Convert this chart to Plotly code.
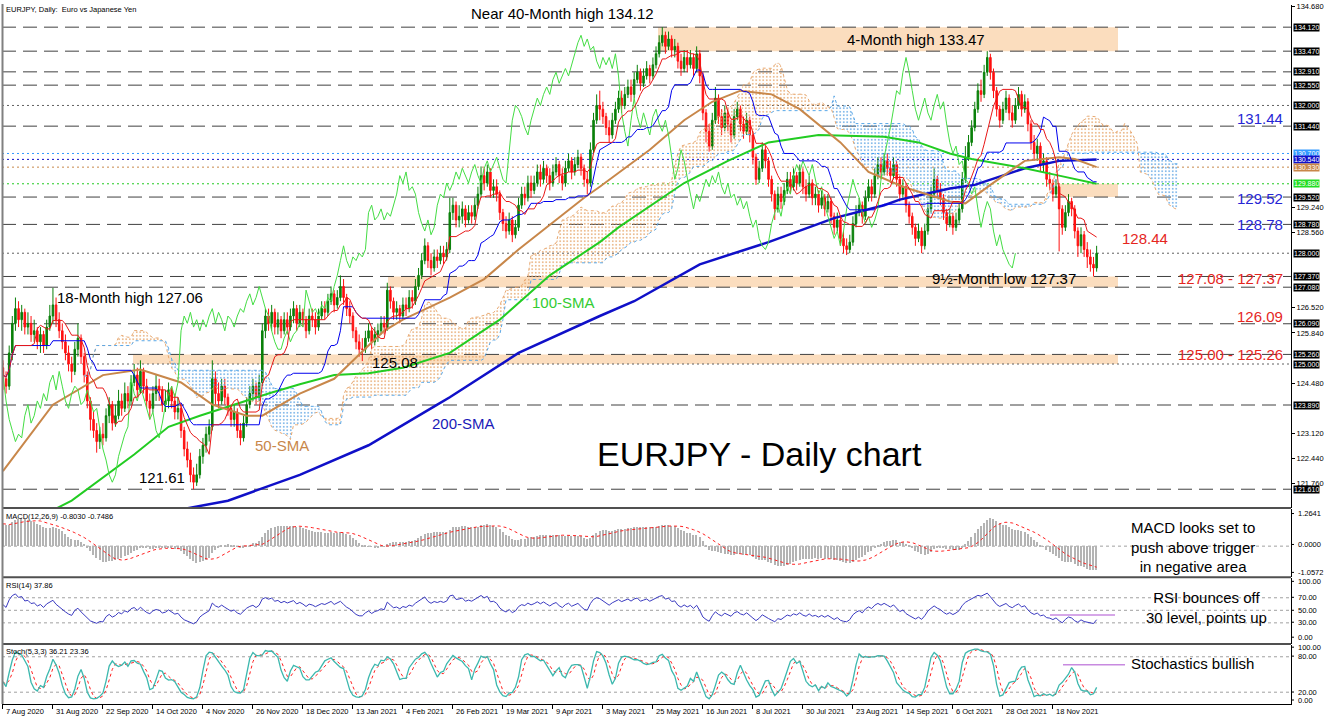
import pandas as pd
import plotly.graph_objects as go
from plotly.subplots import make_subplots

# ---------------- data ----------------
open_first = 124.9
close = [
124.6,124.4,125.3,126.1,126.5,126.2,126.4,126.0,126.1,125.8,
125.9,125.6,125.8,125.5,126.0,126.3,126.6,126.2,125.9,125.6,
125.3,125.0,124.8,125.4,125.7,125.2,124.7,124.0,123.5,123.2,
122.9,123.1,123.0,123.6,123.9,123.4,123.6,124.0,123.8,124.2,
124.0,124.5,124.7,124.3,124.8,124.4,124.0,123.8,124.2,124.4,
124.3,123.9,124.0,124.3,124.0,123.7,123.8,123.2,122.7,122.4,
122.0,121.8,122.0,122.5,122.8,123.1,123.3,124.6,124.2,124.0,
124.4,124.1,123.8,123.5,123.7,123.2,123.0,123.4,123.9,124.2,
124.4,124.1,124.5,125.9,126.3,126.1,126.4,126.0,126.2,125.9,
126.2,126.0,126.3,126.5,126.1,126.4,126.2,125.9,126.3,126.2,
126.0,126.3,126.5,126.4,126.7,126.9,126.6,126.8,127.1,126.8,
126.5,126.3,125.9,125.6,125.4,125.4,125.7,125.9,125.6,125.8,
125.9,126.1,126.0,127.0,126.7,126.4,126.5,126.3,126.6,126.5,
126.8,126.7,127.1,127.4,127.8,128.2,127.8,127.6,127.9,127.8,
128.0,127.9,128.1,129.1,129.3,128.9,129.0,129.2,128.9,129.1,
129.0,129.3,129.6,130.1,129.9,130.2,129.7,129.8,129.6,129.1,
128.8,128.6,128.9,128.5,128.7,129.3,129.6,129.5,129.9,129.7,
129.9,130.2,130.0,130.3,130.1,129.9,130.2,130.4,130.1,129.9,
130.3,130.5,130.2,130.4,130.6,130.3,130.0,129.9,130.8,131.6,
132.0,131.9,131.7,131.4,131.2,131.6,131.9,132.2,132.0,132.3,
132.5,132.3,132.7,132.9,132.6,132.8,133.0,132.8,133.1,133.4,
133.7,133.9,133.6,133.8,133.5,133.6,133.2,133.0,133.3,133.1,
133.3,133.0,133.4,132.8,131.8,131.3,130.9,131.6,132.2,131.7,
131.4,131.8,131.5,131.2,131.7,131.9,131.5,131.3,131.6,131.2,
130.6,130.0,130.3,130.8,130.5,130.0,129.6,129.2,129.6,129.4,
129.7,130.0,129.8,130.1,129.9,130.2,129.8,129.6,129.9,129.5,
129.6,129.3,129.5,129.2,129.4,129.0,128.7,128.9,128.4,128.2,
128.1,128.3,128.8,129.1,129.3,129.0,129.5,129.8,129.6,130.1,
130.4,130.2,130.5,130.3,130.1,130.4,130.0,129.6,129.8,129.3,
129.0,128.7,128.4,128.6,128.2,128.6,129.2,129.6,130.0,129.7,
129.5,129.1,128.8,129.0,128.7,128.9,129.2,130.0,130.6,131.0,
131.4,131.9,132.4,132.3,132.9,133.3,132.9,132.4,131.9,131.6,
131.9,132.2,131.8,131.6,132.0,132.3,131.9,132.1,131.5,131.0,
130.7,130.9,130.4,130.5,130.0,129.9,129.6,129.8,129.2,128.7,
129.1,129.4,129.2,128.6,128.2,128.5,128.1,127.9,127.7,127.6,128.0]
high = [
125.1,124.8,125.5,126.3,126.8,126.7,126.6,126.5,126.4,126.3,
126.2,126.0,126.0,125.9,126.2,126.6,127.06,126.8,126.4,126.1,
125.8,125.5,125.2,125.6,126.1,125.8,125.3,124.8,124.1,123.7,
123.4,123.3,123.4,123.8,124.1,124.0,123.9,124.3,124.2,124.5,
124.4,124.7,125.0,124.9,125.1,124.9,124.6,124.2,124.4,124.7,
124.6,124.4,124.3,124.5,124.4,124.2,124.1,123.9,123.3,122.9,
122.6,122.2,122.3,122.7,123.0,123.3,123.5,125.1,124.8,124.5,
124.6,124.6,124.2,123.9,123.9,123.8,123.4,123.6,124.1,124.4,
124.6,124.5,124.7,126.1,126.5,126.5,126.6,126.5,126.4,126.3,
126.4,126.4,126.5,126.7,126.6,126.6,126.5,126.3,126.5,126.5,
126.4,126.5,126.7,126.7,126.9,127.1,127.0,127.0,127.4,127.3,
126.9,126.7,126.4,126.0,125.8,125.7,125.9,126.1,126.0,126.0,
126.1,126.3,126.3,127.2,127.1,126.8,126.7,126.6,126.8,126.8,
127.0,127.0,127.3,127.6,128.0,128.4,128.3,128.0,128.1,128.1,
128.2,128.2,128.3,129.5,129.5,129.4,129.3,129.4,129.3,129.3,
129.3,129.5,129.8,130.35,130.3,130.4,130.3,130.0,130.0,129.7,
129.2,129.0,129.1,129.0,128.9,129.5,129.8,129.8,130.1,130.1,
130.1,130.4,130.4,130.5,130.4,130.3,130.4,130.6,130.5,130.3,
130.5,130.7,130.6,130.6,130.8,130.7,130.4,130.2,131.0,131.8,
132.3,132.4,132.1,131.8,131.6,131.8,132.1,132.4,132.4,132.5,
132.7,132.7,132.9,133.1,133.0,133.0,133.2,133.1,133.3,133.6,
133.9,134.12,134.0,134.0,133.9,133.8,133.7,133.4,133.5,133.5,
133.5,133.4,133.6,133.5,132.9,131.9,131.5,131.8,132.5,132.3,
131.9,132.0,131.9,131.6,131.9,132.1,132.0,131.7,131.8,131.7,
131.3,130.7,130.5,131.0,130.9,130.6,130.1,129.7,129.8,129.8,
129.9,130.2,130.2,130.3,130.2,130.4,130.3,130.0,130.1,130.0,
129.8,129.7,129.7,129.6,129.6,129.5,129.1,129.1,129.0,128.6,
128.4,128.5,129.0,129.3,129.5,129.4,129.7,130.0,130.0,130.3,
130.6,130.6,130.7,130.7,130.5,130.6,130.5,130.1,130.0,129.9,
129.4,129.1,128.8,128.8,128.7,128.8,129.4,129.8,130.3,130.1,
129.9,129.6,129.2,129.2,129.1,129.1,129.4,130.2,130.9,131.2,
131.6,132.1,132.6,132.7,133.1,133.47,133.4,133.0,132.5,132.0,
132.1,132.4,132.3,132.0,132.2,132.5,132.4,132.3,132.2,131.6,
131.2,131.1,131.0,130.7,130.6,130.2,130.0,130.0,129.9,129.3,
129.3,129.6,129.5,129.3,128.7,128.7,128.6,128.3,128.1,127.9,128.2]
low = [
124.3,124.2,124.3,125.1,125.9,126.0,125.9,125.8,125.8,125.6,
125.6,125.4,125.3,125.3,125.4,125.9,126.1,126.0,125.7,125.4,
125.1,124.8,124.5,124.7,125.2,125.0,124.5,123.8,123.2,123.0,
122.6,122.7,122.8,122.9,123.4,123.2,123.3,123.5,123.6,123.7,
123.8,123.9,124.4,124.1,124.2,124.2,123.8,123.5,123.7,124.0,
124.0,123.7,123.7,123.8,123.8,123.5,123.5,123.0,122.5,122.2,
121.8,121.61,121.7,121.9,122.3,122.6,122.9,123.2,123.9,123.8,
123.9,123.9,123.6,123.3,123.3,123.0,122.8,122.9,123.3,123.8,
124.0,123.9,124.0,124.4,125.7,125.9,125.9,125.8,125.8,125.7,
125.8,125.8,125.9,126.1,125.9,126.0,126.0,125.7,125.8,126.0,
125.8,125.9,126.2,126.2,126.3,126.6,126.4,126.5,126.7,126.6,
126.3,126.1,125.7,125.4,125.2,125.08,125.3,125.6,125.4,125.5,
125.6,125.8,125.8,125.9,126.5,126.2,126.2,126.1,126.2,126.3,
126.4,126.5,126.6,127.0,127.3,127.7,127.6,127.4,127.5,127.6,
127.7,127.7,127.8,128.0,128.9,128.7,128.7,128.8,128.7,128.8,
128.8,128.9,129.2,129.5,129.7,129.8,129.5,129.5,129.4,128.9,
128.6,128.4,128.5,128.3,128.4,128.6,129.2,129.3,129.4,129.5,
129.6,129.8,129.8,129.9,129.9,129.7,129.8,130.1,129.9,129.7,
129.8,130.2,130.0,130.1,130.3,130.1,129.8,129.6,129.8,130.7,
131.5,131.6,131.5,131.2,131.0,131.1,131.5,131.8,131.8,131.9,
132.2,132.1,132.2,132.6,132.4,132.5,132.7,132.6,132.7,133.0,
133.3,133.6,133.4,133.5,133.3,133.3,133.0,132.8,132.9,132.9,
133.0,132.8,132.9,132.6,131.6,131.0,130.75,130.8,131.5,131.5,
131.2,131.3,131.3,131.0,131.1,131.6,131.3,131.1,131.2,131.0,
130.4,129.85,129.9,130.2,130.3,129.8,129.4,128.9,129.1,129.2,
129.3,129.6,129.6,129.7,129.7,129.8,129.6,129.4,129.5,129.3,
129.3,129.1,129.2,129.0,129.1,128.8,128.5,128.6,128.2,128.0,
127.95,128.0,128.2,128.7,129.0,128.8,128.9,129.4,129.4,129.5,
130.0,130.0,130.1,130.1,129.9,130.0,129.8,129.4,129.5,129.1,
128.8,128.5,128.2,128.3,128.0,128.1,128.5,129.1,129.5,129.5,
129.3,128.9,128.6,128.7,128.5,128.6,128.8,129.1,129.9,130.5,
130.9,131.3,131.8,132.1,132.2,132.8,132.7,132.2,131.7,131.4,
131.5,131.8,131.6,131.4,131.5,131.9,131.7,131.8,131.3,130.8,
130.5,130.5,130.2,130.2,129.8,129.7,129.4,129.5,128.05,128.5,
128.6,129.0,129.0,128.4,127.9,128.0,127.9,127.6,127.5,127.37,127.5]

sma50_bar = [0,16,32,44,57,67,78,83,95,106,117,122,128,143,154,165,186,191,207,218,227,236,246,255,268,277,288,303,308,316,327,338,343,350]
sma50_val = [122.1,123.9,124.7,124.85,124.5,123.9,123.6,123.6,124.2,124.6,125.5,125.9,126.2,126.8,127.3,128.1,129.5,129.8,130.8,131.6,132.1,132.4,132.3,131.9,131.0,130.2,129.8,129.4,129.35,129.85,130.5,130.6,130.55,130.33]
sma100_bar = [15,22,42,53,63,74,85,95,106,117,128,143,159,175,191,197,218,232,245,261,282,293,303,310,327,338,350]
sma100_val = [121.0,121.3,122.55,123.3,123.6,123.9,124.2,124.45,124.7,124.75,124.9,125.3,126.2,127.4,128.3,128.7,129.9,130.5,131.0,131.2,131.15,131.0,130.7,130.55,130.3,130.1,129.88]
sma200_bar = [50,72,95,117,139,143,165,191,202,223,245,261,266,282,287,303,311,327,338,350]
sma200_val = [120.95,121.3,122.0,122.8,123.9,124.1,125.3,126.3,126.7,127.7,128.3,128.8,128.95,129.3,129.45,129.75,129.85,130.3,130.5,130.54]

tick_bars = [0,16,32,48,64,80,96,112,128,144,160,176,192,208,224,240,256,272,288,304,320,336]
tick_dates = ["7 Aug 2020","31 Aug 2020","22 Sep 2020","14 Oct 2020","4 Nov 2020","26 Nov 2020",
              "18 Dec 2020","13 Jan 2021","4 Feb 2021","26 Feb 2021","19 Mar 2021","9 Apr 2021",
              "3 May 2021","25 May 2021","16 Jun 2021","8 Jul 2021","30 Jul 2021","23 Aug 2021",
              "14 Sep 2021","6 Oct 2021","28 Oct 2021","18 Nov 2021"]
# scale ticks that stay visible beside the boxed level labels
price_ticks = [134.68,129.24,128.56,126.52,125.84,124.48,123.12,122.44,121.76]

levels_dashed = [134.12,133.47,132.91,132.55,131.44,129.52,128.78,127.37,127.08,126.09,125.26,123.89,121.61]
levels_dotted = [132.00,128.00,125.00]
levels_colored = [(130.70,'#3399FF'),(130.54,'#1010C8'),(130.33,'#C8874A'),(129.88,'#22CC22')]
box_labels = [(134.12,'#000000'),(133.47,'#000000'),(132.91,'#000000'),(132.55,'#000000'),(132.00,'#000000'),
              (131.44,'#000000'),(130.70,'#3399FF'),(130.54,'#1010C8'),(130.33,'#C8874A'),(129.88,'#22DD22'),
              (129.52,'#000000'),(128.78,'#000000'),(128.00,'#000000'),(127.37,'#000000'),(127.08,'#000000'),
              (126.09,'#000000'),(125.26,'#000000'),(125.00,'#000000'),(123.89,'#000000'),(121.61,'#000000')]
zones = [(133.47,134.12,658,1118),(129.52,129.88,1060,1118),(127.08,127.37,388,1118),(125.00,125.26,133,1118)]

# seeds for indicator warm-up
ema12_seed, ema26_seed = 124.3, 123.5
rsi_gain_seed, rsi_loss_seed = 0.12, 0.06

assert len(close) == len(high) == len(low), (len(close), len(high), len(low))

# ---------------- geometry ----------------
W, H = 1332, 721
ML, MR, MT, MB = 2, 41, 3, 17
PW = W - ML - MR
PH = H - MT - MB
def px(x): return (x - ML) / PW
def py(y): return (H - MB - y) / PH

n = len(close)
bars = list(range(n))
opens = [open_first] + close[:-1]
sc, sh, sl = pd.Series(close), pd.Series(high), pd.Series(low)

# Ichimoku
tenkan = (sh.rolling(9, min_periods=1).max() + sl.rolling(9, min_periods=1).min()) / 2
kijun = (sh.rolling(26, min_periods=1).max() + sl.rolling(26, min_periods=1).min()) / 2
spanA = ((tenkan + kijun) / 2).values
spanB = ((sh.rolling(52, min_periods=1).max() + sl.rolling(52, min_periods=1).min()) / 2).values
cloud_x = [i + 26 for i in bars]

# MACD
e12, e26 = ema12_seed, ema26_seed
macd = []
for c in close:
    e12 += (2/13) * (c - e12)
    e26 += (2/27) * (c - e26)
    macd.append(e12 - e26)
signal = pd.Series(macd).rolling(9, min_periods=1).mean()

# RSI
ag, al = rsi_gain_seed, rsi_loss_seed
rsi = []
prev = open_first
for c in close:
    ch = c - prev
    ag = (ag * 13 + max(ch, 0)) / 14
    al = (al * 13 + max(-ch, 0)) / 14
    rsi.append(100 - 100 / (1 + ag / al))
    prev = c

# Stochastic 5,3,3
ll = sl.rolling(5, min_periods=1).min()
hh = sh.rolling(5, min_periods=1).max()
stk = (sc - ll).rolling(3, min_periods=1).sum() / (hh - ll).rolling(3, min_periods=1).sum() * 100
std = stk.rolling(3, min_periods=1).mean()

FONT = "Liberation Sans"
fig = make_subplots(rows=4, cols=1, shared_xaxes=True, vertical_spacing=0.0)

# cloud
segments = []
s = 0
for i in range(1, n + 1):
    if i == n or (spanA[i] >= spanB[i]) != (spanA[s] >= spanB[s]):
        segments.append((s, i))
        s = i
for s, e in segments:
    e2 = min(e + 1, n)
    bull = spanA[s] >= spanB[s]
    col = '#E5A468' if bull else '#5AA2E2'
    xx = cloud_x[s:e2]
    fig.add_trace(go.Scatter(x=xx, y=list(spanB[s:e2]), mode='lines', line=dict(width=0),
                             showlegend=False, hoverinfo='skip'), row=1, col=1)
    fig.add_trace(go.Scatter(x=xx, y=list(spanA[s:e2]), mode='lines', line=dict(width=0),
                             fill='tonexty', fillcolor='rgba(0,0,0,0)',
                             fillpattern=dict(shape='.', fgcolor=col, bgcolor='rgba(0,0,0,0)',
                                              size=3.5, solidity=0.18, fillmode='replace'),
                             showlegend=False, hoverinfo='skip'), row=1, col=1)
fig.add_trace(go.Scatter(x=cloud_x, y=list(spanA), mode='lines', line=dict(color='#E8A870', width=1, dash='dot'),
                         showlegend=False, hoverinfo='skip'), row=1, col=1)
fig.add_trace(go.Scatter(x=cloud_x, y=list(spanB), mode='lines', line=dict(color='#5AA8E8', width=1, dash='dot'),
                         showlegend=False, hoverinfo='skip'), row=1, col=1)

# SMAs
fig.add_trace(go.Scatter(x=sma200_bar, y=sma200_val, mode='lines', line=dict(color='#1010C8', width=2.5),
                         showlegend=False, hoverinfo='skip'), row=1, col=1)
fig.add_trace(go.Scatter(x=sma100_bar, y=sma100_val, mode='lines', line=dict(color='#22CC22', width=2),
                         showlegend=False, hoverinfo='skip'), row=1, col=1)
fig.add_trace(go.Scatter(x=sma50_bar, y=sma50_val, mode='lines', line=dict(color='#C8874A', width=2),
                         showlegend=False, hoverinfo='skip'), row=1, col=1)

# chikou, kijun, tenkan
fig.add_trace(go.Scatter(x=[i - 26 for i in bars], y=close, mode='lines', line=dict(color='#44DD44', width=1),
                         showlegend=False, hoverinfo='skip'), row=1, col=1)
fig.add_trace(go.Scatter(x=bars, y=list(kijun), mode='lines', line=dict(color='#0000EE', width=1),
                         showlegend=False, hoverinfo='skip'), row=1, col=1)
fig.add_trace(go.Scatter(x=bars, y=list(tenkan), mode='lines', line=dict(color='#E81818', width=1),
                         showlegend=False, hoverinfo='skip'), row=1, col=1)

# candles
fig.add_trace(go.Candlestick(x=bars, open=opens, high=high, low=low, close=close,
                             increasing=dict(line=dict(color='#0A800A', width=1), fillcolor='#0A800A'),
                             decreasing=dict(line=dict(color='#FF1010', width=1), fillcolor='#FF1010'),
                             whiskerwidth=0, showlegend=False, hoverinfo='skip'), row=1, col=1)

# MACD
fig.add_trace(go.Bar(x=bars, y=macd, marker=dict(color='#B4B4B4', line=dict(width=0)), width=0.45,
                     showlegend=False, hoverinfo='skip'), row=2, col=1)
fig.add_trace(go.Scatter(x=bars, y=list(signal), mode='lines', line=dict(color='#FF2020', width=1, dash='dot'),
                         showlegend=False, hoverinfo='skip'), row=2, col=1)
# RSI
fig.add_trace(go.Scatter(x=bars, y=rsi, mode='lines', line=dict(color='#3A3AC0', width=1),
                         showlegend=False, hoverinfo='skip'), row=3, col=1)
# Stoch
fig.add_trace(go.Scatter(x=bars, y=list(std), mode='lines', line=dict(color='#FF2020', width=1, dash='dot'),
                         showlegend=False, hoverinfo='skip'), row=4, col=1)
fig.add_trace(go.Scatter(x=bars, y=list(stk), mode='lines', line=dict(color='#3CB8AE', width=1.3),
                         showlegend=False, hoverinfo='skip'), row=4, col=1)

shapes = []
for lo_, hi_, x0, x1 in zones:
    shapes.append(dict(type='rect', xref='paper', yref='y', x0=px(x0), x1=px(x1), y0=lo_, y1=hi_,
                       fillcolor='#FBDDBE', line=dict(width=0), layer='below'))
for v in levels_dashed:
    shapes.append(dict(type='line', xref='paper', yref='y', x0=0, x1=1, y0=v, y1=v,
                       line=dict(color='#404040', width=1, dash='14px,7px'), layer='below'))
for v in levels_dotted:
    shapes.append(dict(type='line', xref='paper', yref='y', x0=0, x1=1, y0=v, y1=v,
                       line=dict(color='#606060', width=1, dash='2px,3px'), layer='below'))
for v, c in levels_colored:
    shapes.append(dict(type='line', xref='paper', yref='y', x0=0, x1=1, y0=v, y1=v,
                       line=dict(color=c, width=1, dash='2px,3px'), layer='below'))
for ref, vals in [('y2', [0]), ('y3', [70, 50, 30]), ('y4', [80, 20])]:
    for v in vals:
        shapes.append(dict(type='line', xref='paper', yref=ref, x0=0, x1=1, y0=v, y1=v,
                           line=dict(color='#A0A0A0', width=1, dash='3px,3px'), layer='below'))
# purple marker lines
shapes.append(dict(type='line', xref='paper', yref='y3', x0=px(1050), x1=px(1115), y0=42.7, y1=42.7,
                   line=dict(color='#C88AE0', width=1.5)))
shapes.append(dict(type='line', xref='paper', yref='y4', x0=px(1063), x1=px(1125), y0=66.4, y1=66.4,
                   line=dict(color='#C88AE0', width=1.5)))
# panel separators and borders
for yy in [507.5, 576.8, 643.8]:
    shapes.append(dict(type='line', xref='paper', yref='paper', x0=0, x1=1, y0=py(yy), y1=py(yy),
                       line=dict(color='#505050', width=2)))
shapes.append(dict(type='line', xref='paper', yref='paper', x0=px(2.5), x1=px(2.5), y0=0, y1=py(2),
                   line=dict(color='#808080', width=2)))
# small right ticks in sub panels
sub_ticks = [513, 544, 572, 581, 597, 610, 622, 637, 647, 656, 692, 700]
for yy in sub_ticks:
    shapes.append(dict(type='line', xref='paper', yref='paper', x0=1, x1=px(1294), y0=py(yy), y1=py(yy),
                       line=dict(color='#000', width=1)))

ann = []
def A(text, x, y, size=15, color='#000000', xa='center', ya='middle', family=FONT):
    ann.append(dict(text=text, xref='paper', yref='paper', x=px(x), y=py(y), xanchor=xa, yanchor=ya,
                    showarrow=False, font=dict(size=size, color=color, family=family)))

A("EURJPY, Daily:  Euro vs Japanese Yen", 4, 8, 7.5, xa='left')
A("Near 40-Month high 134.12", 562, 12)
A("4-Month high 133.47", 916, 38)
A("18-Month high 127.06", 130, 296)
A("125.08", 395, 362)
A("121.61", 162, 477)
A("100-SMA", 563, 301, color='#33CC33')
A("50-SMA", 282, 445, color='#C8874A')
A("200-SMA", 463, 423, color='#1A1AB8')
A("EURJPY - Daily chart", 759, 453, 34)
A("9½-Month low 127.37", 1004, 277)
BLUE, RED = '#2525D5', '#E5261E'
A("131.44", 1285, 117, color=BLUE, xa='right')
A("129.52", 1285, 197, color=BLUE, xa='right')
A("128.78", 1285, 223, color=BLUE, xa='right')
A("128.44", 1120, 237, color=RED, xa='left')
A("127.08 - 127.37", 1285, 277, color=RED, xa='right')
A("126.09", 1285, 315, color=RED, xa='right')
A("125.00 - 125.26", 1285, 354, color=RED, xa='right')
A("MACD(12,26,9) -0.8030 -0.7486", 4, 516, 7.5, xa='left')
A("RSI(14) 37.86", 4, 585, 7.5, xa='left')
A("Stoch(5,3,3) 36.21 23.36", 4, 651, 7.5, xa='left')
A("MACD looks set to<br>push above trigger<br>in negative area", 1193, 547, 15)
A("RSI bounces off<br>30 level, points up", 1206, 607, 15)
A("Stochastics bullish", 1192, 663, 15)
for t, yy in [("1.2641", 513), ("0.0000", 544), ("-1.0572", 572), ("100.00", 581), ("70.00", 597),
              ("50.00", 610), ("30.00", 622), ("0.00", 637), ("100.00", 647), ("80.00", 656),
              ("20.00", 692), ("0.00", 700)]:
    A(t, 1296, yy, 7.5, xa='left')
for b, t in zip(tick_bars, tick_dates):
    ann.append(dict(text=t, xref='x4', yref='paper', x=b, y=py(712), xanchor='left', yanchor='middle',
                    xshift=1, showarrow=False, font=dict(size=7.5, color='#000', family=FONT)))
for v, c in box_labels:
    ann.append(dict(text='%.3f' % v, xref='paper', yref='y', x=px(1293), y=v, xanchor='left', yanchor='middle',
                    showarrow=False, bgcolor=c, borderpad=0,
                    font=dict(size=7, color='#FFFFFF', family=FONT)))

XR = [-0.3, 412.2]
fig.update_xaxes(range=XR, showgrid=False, zeroline=False, showticklabels=False, rangeslider_visible=False,
                 showline=False)
fig.update_xaxes(row=4, col=1, ticks='outside', tickvals=tick_bars, ticklen=4, tickcolor='#000',
                 showline=True, linecolor='#000', linewidth=1)
fig.update_layout(
    width=W, height=H, margin=dict(l=ML, r=MR, t=MT, b=MB),
    paper_bgcolor='white', plot_bgcolor='white', showlegend=False, bargap=0,
    annotations=ann, shapes=shapes,
    yaxis=dict(domain=[py(507.5), 1], range=[121.10, 134.72], side='right', tickvals=price_ticks,
               ticktext=['%.3f' % v for v in price_ticks], ticks='outside', ticklen=3, tickcolor='#000',
               tickfont=dict(size=7.5, color='#000', family=FONT), showline=True, linecolor='#000',
               linewidth=1, showgrid=False, zeroline=False),
    yaxis2=dict(domain=[py(576.8), py(508.5)], range=[-1.0572, 1.2641], side='right', showticklabels=False,
                showline=True, linecolor='#000', showgrid=False, zeroline=False),
    yaxis3=dict(domain=[py(643.8), py(577.8)], range=[-3.7, 101.3], side='right', showticklabels=False,
                showline=True, linecolor='#000', showgrid=False, zeroline=False),
    yaxis4=dict(domain=[0, py(644.8)], range=[0, 100], side='right', showticklabels=False,
                showline=True, linecolor='#000', showgrid=False, zeroline=False),
)
fig.write_html("out.html", include_plotlyjs=True, config={'displayModeBar': False})
